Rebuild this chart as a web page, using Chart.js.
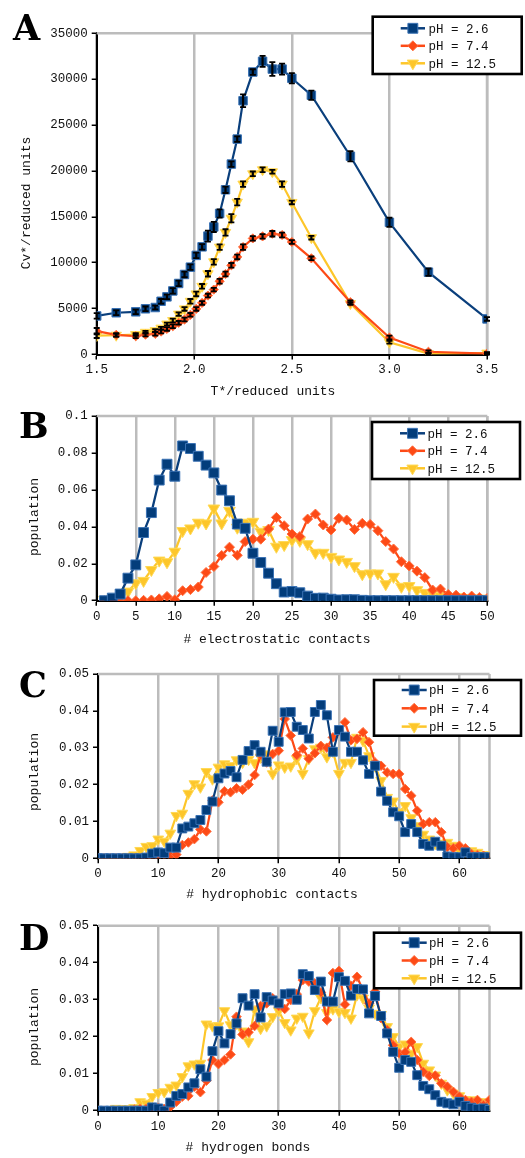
<!DOCTYPE html>
<html><head><meta charset="utf-8">
<script src="https://cdn.jsdelivr.net/npm/chart.js@4.4.1/dist/chart.umd.min.js"></script>
<style>
html,body{margin:0;padding:0;background:#fff;}
#wrap{position:relative;width:525px;height:1158px;overflow:hidden;background:#fff;}
canvas{position:absolute;left:0;}
</style></head><body><div id="wrap">
<canvas id="cA"></canvas><canvas id="cB"></canvas><canvas id="cC"></canvas><canvas id="cD"></canvas>
</div>
<script>
// ---------- DATA ----------
const seriesNames = ['pH = 2.6', 'pH = 7.4', 'pH = 12.5'];

// Panel A: heat capacity vs temperature
const tempA = [1.5, 1.6, 1.7, 1.75, 1.8, 1.83, 1.86, 1.89, 1.92, 1.95, 1.98, 2.01, 2.04, 2.07, 2.10, 2.13, 2.16, 2.19, 2.22, 2.25, 2.30, 2.35, 2.40, 2.45, 2.50, 2.60, 2.80, 3.00, 3.20, 3.50];
const cvBlue = [4200, 4550, 4650, 4980, 5120, 5800, 6280, 6930, 7740, 8720, 9520, 10800, 11730, 12900, 13900, 15370, 17950, 20750, 23470, 27650, 30780, 31950, 31100, 31100, 30100, 28250, 21600, 14400, 8970, 3880];
const cvOrange = [2540, 2140, 1990, 2170, 2250, 2500, 2790, 3080, 3450, 3810, 4320, 4970, 5620, 6420, 7070, 7980, 8770, 9720, 10630, 11710, 12650, 12870, 13160, 13020, 12260, 10480, 5700, 1850, 300, 100];
const cvYellow = [2050, 2100, 2170, 2420, 2600, 2870, 3320, 3700, 4400, 4970, 5800, 6600, 7430, 8800, 10100, 11700, 13300, 14850, 16600, 18570, 19690, 20130, 19910, 18570, 16570, 12730, 5550, 1340, 100, 150];
const errBlue = [300, 250, 250, 250, 200, 250, 250, 300, 300, 300, 300, 300, 300, 600, 550, 450, 350, 300, 300, 700, 300, 600, 750, 600, 550, 500, 550, 500, 400, 200];
const errOrange = [350, 200, 200, 200, 200, 200, 200, 200, 200, 200, 200, 200, 200, 200, 200, 250, 250, 250, 250, 300, 250, 250, 300, 250, 200, 200, 200, 200, 150, 100];
const errYellow = [250, 150, 150, 150, 150, 150, 150, 200, 200, 200, 250, 250, 250, 300, 300, 300, 350, 450, 350, 300, 250, 250, 200, 300, 200, 200, 150, 150, 100, 100];
const xTicksA = [1.5, 2.0, 2.5, 3.0, 3.5];
const xLabelsA = ['1.5', '2.0', '2.5', '3.0', '3.5'];
const yTicksA = [0, 5000, 10000, 15000, 20000, 25000, 30000, 35000];
const yLabelsA = ['0', '5000', '10000', '15000', '20000', '25000', '30000', '35000'];

// Panel B: electrostatic contacts
const contactsB = [1,2,3,4,5,6,7,8,9,10,11,12,13,14,15,16,17,18,19,20,21,22,23,24,25,26,27,28,29,30,31,32,33,34,35,36,37,38,39,40,41,42,43,44,45,46,47,48,49,50];
const popBlueB = [0, 0.0014, 0.0036, 0.0122, 0.0194, 0.0369, 0.0477, 0.0653, 0.0739, 0.0674, 0.0838, 0.0824, 0.0782, 0.0734, 0.0692, 0.0599, 0.0541, 0.0415, 0.0392, 0.0257, 0.0207, 0.0149, 0.0092, 0.0047, 0.005, 0.0043, 0.0025, 0.0013, 0.0014, 0.0008, 0.0004, 0.0005, 0.0005, 0.0002, 0, 0, 0, 0, 0, 0, 0, 0, 0, 0, 0, 0, 0, 0, 0, 0];
const popOrangeB = [0, 0, 0, 0, 0, 0.0002, 0.0004, 0.001, 0.0023, 0.0005, 0.0054, 0.006, 0.0074, 0.0153, 0.0185, 0.0245, 0.029, 0.0246, 0.032, 0.0333, 0.0333, 0.0388, 0.0451, 0.0406, 0.0361, 0.0347, 0.0442, 0.0469, 0.041, 0.0383, 0.0446, 0.0437, 0.0386, 0.0419, 0.0413, 0.0379, 0.032, 0.028, 0.0211, 0.0188, 0.016, 0.0125, 0.0058, 0.0063, 0.0034, 0.003, 0.002, 0.0025, 0.0018, 0.0013];
const popYellowB = [0.0005, 0.001, 0.002, 0.005, 0.0095, 0.0108, 0.0167, 0.0218, 0.0209, 0.0266, 0.0378, 0.0392, 0.0423, 0.0419, 0.05, 0.0419, 0.0487, 0.0396, 0.0423, 0.0428, 0.0374, 0.0383, 0.0293, 0.0302, 0.0329, 0.0325, 0.0307, 0.026, 0.026, 0.0238, 0.0224, 0.0211, 0.0188, 0.0144, 0.0148, 0.0148, 0.009, 0.013, 0.0076, 0.008, 0.0058, 0.0043, 0.0036, 0.0025, 0.0018, 0.002, 0.0015, 0.0012, 0.0012, 0.0008];
const xTicksB = [0, 5, 10, 15, 20, 25, 30, 35, 40, 45, 50];
const xLabelsB = ['0', '5', '10', '15', '20', '25', '30', '35', '40', '45', '50'];
const yTicksB = [0, 0.02, 0.04, 0.06, 0.08, 0.1];
const yLabelsB = ['0', '0.02', '0.04', '0.06', '0.08', '0.1'];

// Panels C and D share the count axis 0..65
const countsCD = [0,1,2,3,4,5,6,7,8,9,10,11,12,13,14,15,16,17,18,19,20,21,22,23,24,25,26,27,28,29,30,31,32,33,34,35,36,37,38,39,40,41,42,43,44,45,46,47,48,49,50,51,52,53,54,55,56,57,58,59,60,61,62,63,64,65];
const popBlueC = [0, 0, 0, 0, 0, 0, 0, 0, 0.0002, 0.0013, 0.0016, 0.0014, 0.0029, 0.0029, 0.0081, 0.0086, 0.0095, 0.0104, 0.0131, 0.0154, 0.0217, 0.023, 0.0237, 0.022, 0.0267, 0.0291, 0.0307, 0.0289, 0.0262, 0.0346, 0.0316, 0.0396, 0.0397, 0.0357, 0.0348, 0.0325, 0.0397, 0.0416, 0.0388, 0.0289, 0.0348, 0.033, 0.0289, 0.0289, 0.0266, 0.0229, 0.0251, 0.0181, 0.0156, 0.0125, 0.0114, 0.0071, 0.0093, 0.0071, 0.0039, 0.0034, 0.0045, 0.0034, 0.0005, 0.0003, 0.0003, 0.0016, 0.0003, 0.0003, 0.0003, 0.0003];
const popOrangeC = [0, 0, 0, 0, 0, 0, 0, 0, 0.0002, 0.0003, 0.0007, 0.001, 0.0007, 0.001, 0.0036, 0.0043, 0.0052, 0.0078, 0.0073, 0.0157, 0.0152, 0.0182, 0.0179, 0.019, 0.0186, 0.02, 0.0226, 0.028, 0.026, 0.0283, 0.0292, 0.0378, 0.0333, 0.028, 0.0298, 0.027, 0.0285, 0.0305, 0.03, 0.0328, 0.0346, 0.0369, 0.032, 0.0324, 0.0342, 0.0315, 0.026, 0.0251, 0.0233, 0.0229, 0.0229, 0.0188, 0.017, 0.0129, 0.0093, 0.0098, 0.0098, 0.0071, 0.003, 0.0027, 0.0034, 0.0027, 0.0012, 0.0009, 0.0007, 0.0003];
const popYellowC = [0, 0, 0, 0, 0.0002, 0.0005, 0.0009, 0.0021, 0.0032, 0.0034, 0.0052, 0.0046, 0.0068, 0.0116, 0.0122, 0.0176, 0.0202, 0.0193, 0.0235, 0.0215, 0.0247, 0.0256, 0.0251, 0.0267, 0.026, 0.0268, 0.0259, 0.0274, 0.0283, 0.0229, 0.0253, 0.0247, 0.025, 0.027, 0.023, 0.027, 0.0297, 0.0301, 0.0275, 0.029, 0.023, 0.026, 0.026, 0.0328, 0.0319, 0.0278, 0.025, 0.0211, 0.0165, 0.0155, 0.0125, 0.0143, 0.011, 0.0088, 0.0065, 0.0052, 0.004, 0.004, 0.0043, 0.0035, 0.002, 0.002, 0.002, 0.0016, 0.001, 0.0008];
const popBlueD = [0, 0, 0, 0, 0, 0, 0, 0, 0, 0.0009, 0.0006, 0, 0.0022, 0.004, 0.0045, 0.0063, 0.0074, 0.0112, 0.0092, 0.0161, 0.0215, 0.0182, 0.0207, 0.0236, 0.0304, 0.0284, 0.0315, 0.0252, 0.0307, 0.0298, 0.029, 0.0315, 0.0317, 0.03, 0.0369, 0.0364, 0.0326, 0.0349, 0.0295, 0.0295, 0.0361, 0.0351, 0.0311, 0.0329, 0.0328, 0.0263, 0.031, 0.0256, 0.0209, 0.0159, 0.0116, 0.0137, 0.0132, 0.0096, 0.0067, 0.0058, 0.0042, 0.0024, 0.002, 0.0017, 0.0024, 0.0013, 0.0008, 0.0005, 0.0006, 0.0002];
const popOrangeD = [0, 0, 0, 0, 0, 0, 0.0003, 0.0005, 0.0005, 0.0008, 0.0008, 0.0005, 0.001, 0.0024, 0.0038, 0.004, 0.0065, 0.005, 0.0081, 0.0137, 0.0126, 0.0137, 0.0152, 0.0254, 0.0206, 0.0212, 0.0229, 0.0283, 0.029, 0.0304, 0.0283, 0.0275, 0.0299, 0.0315, 0.0353, 0.0349, 0.0344, 0.032, 0.0245, 0.0372, 0.0378, 0.0287, 0.0338, 0.0362, 0.0326, 0.029, 0.0322, 0.025, 0.0218, 0.0177, 0.0155, 0.0158, 0.0186, 0.0137, 0.0105, 0.0094, 0.0095, 0.0074, 0.0065, 0.0051, 0.0038, 0.0029, 0.0024, 0.0029, 0.0015, 0.0029];
const popYellowD = [0, 0, 0.0003, 0.0006, 0.0005, 0.0005, 0.0008, 0.0024, 0.002, 0.0038, 0.0049, 0.0051, 0.0063, 0.0069, 0.0092, 0.0121, 0.0126, 0.0128, 0.0234, 0.0229, 0.0229, 0.027, 0.0232, 0.0236, 0.0215, 0.0186, 0.0274, 0.0222, 0.0229, 0.0254, 0.027, 0.0238, 0.0218, 0.025, 0.0255, 0.021, 0.027, 0.0305, 0.0265, 0.0275, 0.0268, 0.0265, 0.025, 0.0313, 0.0304, 0.0277, 0.0263, 0.026, 0.0227, 0.02, 0.0173, 0.018, 0.0155, 0.0173, 0.0128, 0.011, 0.0096, 0.0074, 0.0056, 0.0047, 0.004, 0.0029, 0.0029, 0.0024, 0.0024, 0.0015];
const xTicksCD = [0, 10, 20, 30, 40, 50, 60];
const xLabelsCD = ['0', '10', '20', '30', '40', '50', '60'];
const yTicksCD = [0, 0.01, 0.02, 0.03, 0.04, 0.05];
const yLabelsCD = ['0', '0.01', '0.02', '0.03', '0.04', '0.05'];

// ---------- STYLE ----------
const MONO = '"Liberation Mono", "DejaVu Sans Mono", monospace';
const GRID = '#bcbcbc';
const COLORS = [
  {line: '#0a3f7c', fill: '#033d7b', edge: '#3a72b4', style: 'rect', rot: 0},
  {line: '#fd4a16', fill: '#fd4a16', edge: '#ff6f40', style: 'rectRot', rot: 0},
  {line: '#fdc62a', fill: '#fdc62a', edge: '#ffd955', style: 'triangle', rot: 180}
];

function pts(xs, ys) { return xs.map((x, i) => ({x: x, y: ys[i]})); }

function datasets(xs, series, radii, lw, errs) {
  return series.map((ys, k) => ({
    label: seriesNames[k],
    data: pts(xs, ys),
    borderColor: COLORS[k].line,
    backgroundColor: COLORS[k].fill,
    borderWidth: lw,
    pointStyle: COLORS[k].style,
    pointRotation: COLORS[k].rot,
    pointRadius: radii[k],
    pointBackgroundColor: COLORS[k].fill,
    pointBorderColor: COLORS[k].edge,
    pointBorderWidth: 1,
    tension: 0,
    fill: false,
    errorBars: errs ? errs[k] : null
  }));
}

// ---------- PLUGINS ----------
const framePlugin = {
  id: 'frame',
  beforeDatasetsDraw(chart) {
    const a = chart.chartArea, ctx = chart.ctx;
    ctx.save();
    ctx.strokeStyle = GRID; ctx.lineWidth = 2.5;
    ctx.beginPath();
    ctx.moveTo(a.left, a.top); ctx.lineTo(a.right, a.top);
    ctx.moveTo(a.right, a.top); ctx.lineTo(a.right, a.bottom);
    ctx.stroke();
    ctx.restore();
  }
};

const errorPlugin = {
  id: 'errbars',
  afterDatasetsDraw(chart) {
    const ctx = chart.ctx, ys = chart.scales.y;
    ctx.save();
    ctx.strokeStyle = '#000';
    chart.data.datasets.forEach((ds, di) => {
      if (!ds.errorBars) return;
      const meta = chart.getDatasetMeta(di);
      meta.data.forEach((el, i) => {
        const v = ds.data[i].y, e = ds.errorBars[i];
        const yt = ys.getPixelForValue(v + e), yb = ys.getPixelForValue(Math.max(0, v - e));
        const x = el.x;
        ctx.lineWidth = 2.2;
        ctx.beginPath(); ctx.moveTo(x, yt); ctx.lineTo(x, yb); ctx.stroke();
        ctx.lineWidth = 1.8;
        ctx.beginPath();
        ctx.moveTo(x - 3, yt); ctx.lineTo(x + 3, yt);
        ctx.moveTo(x - 3, yb); ctx.lineTo(x + 3, yb);
        ctx.stroke();
      });
    });
    ctx.restore();
  }
};

function drawMarker(ctx, style, x, y, r) {
  ctx.beginPath();
  if (style === 'rect') {
    const s = r * Math.SQRT1_2;
    ctx.rect(x - s, y - s, 2 * s, 2 * s);
  } else if (style === 'rectRot') {
    ctx.moveTo(x, y - r); ctx.lineTo(x + r, y); ctx.lineTo(x, y + r); ctx.lineTo(x - r, y); ctx.closePath();
  } else {
    ctx.moveTo(x, y + r);
    ctx.lineTo(x + r * 0.866, y - r * 0.5);
    ctx.lineTo(x - r * 0.866, y - r * 0.5);
    ctx.closePath();
  }
  ctx.fill(); ctx.stroke();
}

const legendPlugin = {
  id: 'boxLegend',
  afterDraw(chart, args, o) {
    const ctx = chart.ctx;
    ctx.save();
    ctx.fillStyle = '#fff';
    ctx.fillRect(o.x, o.y, o.w, o.h);
    ctx.strokeStyle = '#000'; ctx.lineWidth = 2.6;
    ctx.strokeRect(o.x, o.y, o.w, o.h);
    chart.data.datasets.forEach((ds, i) => {
      const cy = o.first + i * o.gap;
      ctx.strokeStyle = ds.borderColor; ctx.lineWidth = 2.5;
      ctx.beginPath(); ctx.moveTo(o.lx1, cy); ctx.lineTo(o.lx2, cy); ctx.stroke();
      ctx.fillStyle = ds.pointBackgroundColor; ctx.strokeStyle = ds.pointBorderColor; ctx.lineWidth = 1;
      drawMarker(ctx, ds.pointStyle, (o.lx1 + o.lx2) / 2, cy, o.radii[i]);
      ctx.fillStyle = '#111';
      ctx.font = '12.5px ' + MONO;
      ctx.textAlign = 'left'; ctx.textBaseline = 'middle';
      ctx.fillText(ds.label, o.tx, cy + 1);
    });
    ctx.restore();
  }
};

const textPlugin = {
  id: 'panelText',
  afterDraw(chart, args, o) {
    const ctx = chart.ctx;
    ctx.save();
    ctx.fillStyle = '#000';
    ctx.font = 'bold 35px "DejaVu Serif", "Liberation Serif", serif';
    ctx.textAlign = 'left'; ctx.textBaseline = 'alphabetic';
    ctx.fillText(o.letter, o.lx, o.ly);
    ctx.fillStyle = '#111';
    ctx.font = '13px ' + MONO;
    ctx.textAlign = 'center'; ctx.textBaseline = 'middle';
    ctx.fillText(o.xTitle, o.xcx, o.xcy);
    ctx.translate(o.ycx, o.ycy);
    ctx.rotate(-Math.PI / 2);
    ctx.fillText(o.yTitle, 0, 0);
    ctx.restore();
  }
};

// ---------- BUILDER ----------
function build(id, p) {
  const cv = document.getElementById(id);
  cv.style.top = p.top + 'px';
  cv.width = 525; cv.height = p.h;
  cv.style.width = '525px'; cv.style.height = p.h + 'px';
  const tickFont = {family: MONO, size: 12.5};
  return new Chart(cv, {
    type: 'line',
    data: {datasets: p.datasets},
    plugins: [framePlugin, errorPlugin, legendPlugin, textPlugin],
    options: {
      responsive: false,
      animation: false,
      events: [],
      layout: {padding: {left: 0, top: p.area.top, right: 525 - p.area.right, bottom: 0}},
      scales: {
        x: {
          type: 'linear', min: p.xMin, max: p.xMax,
          afterFit: s => { s.height = p.h - p.area.bottom; },
          afterBuildTicks: s => { s.ticks = p.xTicks.map(v => ({value: v})); },
          ticks: {callback: (v, i) => p.xLabels[i], font: tickFont, color: '#111', padding: 3, maxRotation: 0, autoSkip: false},
          grid: {color: GRID, lineWidth: 2.5, tickColor: '#000', tickLength: 5, tickWidth: 1.5},
          border: {color: '#000', width: 2}
        },
        y: {
          type: 'linear', min: 0, max: p.yMax,
          afterFit: s => { s.width = p.area.left; },
          afterBuildTicks: s => { s.ticks = p.yTicks.map(v => ({value: v})); },
          ticks: {callback: (v, i) => p.yLabels[i], font: tickFont, color: '#111', padding: 4, autoSkip: false},
          grid: {color: 'rgba(0,0,0,0)', lineWidth: 2.5, tickColor: '#000', tickLength: 5, tickWidth: 1.5},
          border: {color: '#000', width: 2}
        }
      },
      plugins: {
        legend: {display: false},
        tooltip: {enabled: false},
        boxLegend: p.legend,
        panelText: p.text
      }
    }
  });
}

build('cA', {
  top: 0, h: 400,
  area: {left: 96.7, right: 487, top: 33.3, bottom: 354.5},
  xMin: 1.5, xMax: 3.5, yMax: 35000,
  xTicks: xTicksA, xLabels: xLabelsA, yTicks: yTicksA, yLabels: yLabelsA,
  datasets: datasets(tempA, [cvBlue, cvOrange, cvYellow], [6, 4.6, 6], 2.2, [errBlue, errOrange, errYellow]),
  legend: {x: 372.7, y: 16.7, w: 149, h: 57.3, first: 28.3, gap: 17.5, lx1: 400.7, lx2: 425, tx: 428.5, radii: [7, 5, 6.5]},
  text: {letter: 'A', lx: 13, ly: 40, xTitle: 'T*/reduced units', xcx: 273, xcy: 392, yTitle: 'Cv*/reduced units', ycx: 27, ycy: 203}
});

build('cB', {
  top: 395, h: 265,
  area: {left: 96.7, right: 487.3, top: 21, bottom: 205.7},
  xMin: 0, xMax: 50, yMax: 0.1,
  xTicks: xTicksB, xLabels: xLabelsB, yTicks: yTicksB, yLabels: yLabelsB,
  datasets: datasets(contactsB, [popBlueB, popOrangeB, popYellowB], [7, 5, 6.7], 2.3, null),
  legend: {x: 372, y: 27, w: 148, h: 57, first: 38.3, gap: 17.5, lx1: 400, lx2: 425, tx: 427.5, radii: [7, 5, 6.5]},
  text: {letter: 'B', lx: 19, ly: 43, xTitle: '# electrostatic contacts', xcx: 277, xcy: 245, yTitle: 'population', ycx: 35, ycy: 122}
});

build('cC', {
  top: 655, h: 255,
  area: {left: 98, right: 489.5, top: 19, bottom: 203.3},
  xMin: 0, xMax: 65, yMax: 0.05,
  xTicks: xTicksCD, xLabels: xLabelsCD, yTicks: yTicksCD, yLabels: yLabelsCD,
  datasets: datasets(countsCD, [popBlueC, popOrangeC, popYellowC], [6.3, 4.8, 6.2], 2.2, null),
  legend: {x: 374, y: 25, w: 147, h: 55.7, first: 35, gap: 18.3, lx1: 401.7, lx2: 426.7, tx: 429, radii: [7, 5, 6.5]},
  text: {letter: 'C', lx: 19, ly: 42, xTitle: '# hydrophobic contacts', xcx: 272, xcy: 240, yTitle: 'population', ycx: 35, ycy: 117}
});

build('cD', {
  top: 910, h: 248,
  area: {left: 98, right: 489.5, top: 15.7, bottom: 200.7},
  xMin: 0, xMax: 65, yMax: 0.05,
  xTicks: xTicksCD, xLabels: xLabelsCD, yTicks: yTicksCD, yLabels: yLabelsCD,
  datasets: datasets(countsCD, [popBlueD, popOrangeD, popYellowD], [6.3, 4.8, 6.2], 2.2, null),
  legend: {x: 374, y: 22.7, w: 147, h: 55.6, first: 32.7, gap: 17.8, lx1: 401.7, lx2: 426.7, tx: 429, radii: [7, 5, 6.5]},
  text: {letter: 'D', lx: 19, ly: 40, xTitle: '# hydrogen bonds', xcx: 248, xcy: 238, yTitle: 'population', ycx: 35, ycy: 117}
});
</script>
</body></html>
